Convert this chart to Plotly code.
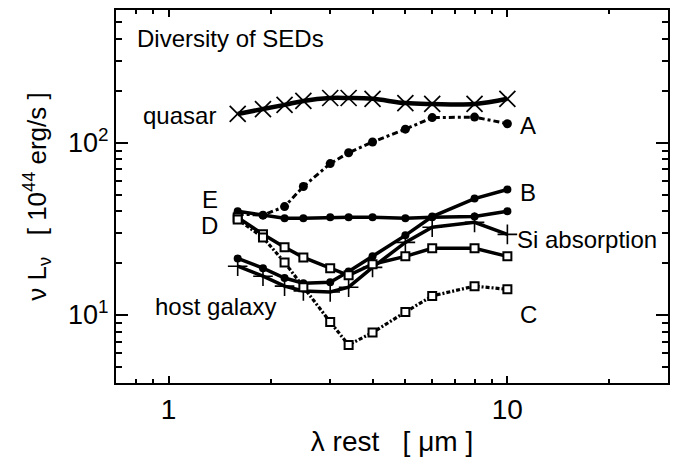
import plotly.graph_objects as go

# ---- data ----
wavelength = [1.6, 1.9, 2.2, 2.5, 3.0, 3.4, 4.0, 5.0, 6.0, 8.0, 10.0]
quasar = [147, 157, 166, 175, 182, 182, 180, 170, 168, 168, 180]
sed_A = [38.5, 38, 42.6, 55.7, 75.7, 87.5, 101, 120, 140, 141, 129]
sed_B = [21.3, 18.7, 16.4, 15.3, 15.5, 17.9, 21.9, 29.0, 37.3, 47.4, 53.5]
sed_C = [35.9, 28.2, 20.2, 14.5, 9.1, 6.7, 7.9, 10.4, 12.9, 14.7, 14.1]
sed_D = [36.8, 29.4, 24.7, 21.6, 18.7, 17.0, 19.7, 21.9, 24.4, 24.4, 21.9]
sed_E = [40, 38, 36.5, 36.5, 37, 37, 37, 36.5, 37, 37.3, 40]
host = [19.2, 16.8, 14.7, 13.8, 13.6, 14.5, 18.9, 26.4, 32.3, 34.5, 29.4]

x_major = [1, 10]
x_major_text = ["1", "10"]
x_minor = [0.8, 0.9, 2, 3, 4, 5, 6, 7, 8, 9, 20, 30]
y_major = [10, 100]
y_major_text = ["10<sup>1</sup>", "10<sup>2</sup>"]
y_minor = [5, 6, 7, 8, 9, 20, 30, 40, 50, 60, 70, 80, 90, 200, 300, 400, 500]

FONT = "Liberation Sans, Arial, sans-serif"
K = "black"

fig = go.Figure()

fig.add_trace(go.Scatter(x=wavelength, y=quasar, mode="lines+markers",
                         line=dict(color=K, width=4.5, shape="spline"),
                         marker=dict(symbol="x-thin-open", size=16, color=K, line=dict(color=K, width=1.7))))
fig.add_trace(go.Scatter(x=wavelength, y=sed_A, mode="lines+markers",
                         line=dict(color=K, width=3, dash="6px,3px,3px,3px"),
                         marker=dict(symbol="circle", size=9, color=K)))
fig.add_trace(go.Scatter(x=wavelength, y=sed_E, mode="lines+markers",
                         line=dict(color=K, width=3.5),
                         marker=dict(symbol="circle", size=8, color=K)))
fig.add_trace(go.Scatter(x=wavelength, y=sed_B, mode="lines+markers",
                         line=dict(color=K, width=3.5),
                         marker=dict(symbol="circle", size=8, color=K)))
fig.add_trace(go.Scatter(x=wavelength, y=host, mode="lines+markers",
                         line=dict(color=K, width=3.5),
                         marker=dict(symbol="cross-thin-open", size=14, color=K, line=dict(color=K, width=1.6))))
fig.add_trace(go.Scatter(x=wavelength, y=sed_D, mode="lines+markers",
                         line=dict(color=K, width=3.5),
                         marker=dict(symbol="square", size=8, color="white", line=dict(color=K, width=2))))
fig.add_trace(go.Scatter(x=wavelength, y=sed_C, mode="lines+markers",
                         line=dict(color=K, width=3.2, dash="4px,2px,2px,2px"),
                         marker=dict(symbol="square", size=8, color="white", line=dict(color=K, width=2))))

def ann(text, x, y, xanchor="left"):
    fig.add_annotation(text=text, x=x, y=y, xref="paper", yref="paper",
                       xanchor=xanchor, yanchor="middle", showarrow=False,
                       font=dict(family=FONT, size=24, color=K))

# plot area: x 116..670, y 10..383
def px(xp):
    return (xp - 116) / 554.0
def py(yp):
    return 1 - (yp - 10) / 373.0

ann("Diversity of SEDs", px(135), py(38))
ann("quasar", px(218), py(116), "right")
ann("A", px(519), py(125))
ann("B", px(519), py(192))
ann("C", px(519), py(314))
ann("Si absorption", px(516), py(239))
ann("E", px(220), py(199), "right")
ann("D", px(220), py(225), "right")
ann("host galaxy", px(153), py(306))

axis_common = dict(showline=True, linecolor=K, linewidth=2, mirror="allticks",
                   ticks="inside", tickcolor=K, tickwidth=1.5, showgrid=False, zeroline=False)

fig.update_xaxes(type="log", range=[-0.155, 1.474], tickmode="array",
                 tickvals=x_major, ticktext=x_major_text, ticklen=7,
                 tickfont=dict(family=FONT, size=28, color=K),
                 minor=dict(tickmode="array", tickvals=x_minor, ticks="inside", ticklen=4,
                            tickcolor=K, tickwidth=1.5, showgrid=False),
                 title=dict(text="λ rest  &nbsp;[ μm ]", font=dict(family=FONT, size=28, color=K), standoff=8),
                 **axis_common)
fig.update_yaxes(type="log", range=[0.605, 2.771], tickmode="array",
                 tickvals=y_major, ticktext=y_major_text, ticklen=12,
                 tickfont=dict(family=FONT, size=27, color=K),
                 minor=dict(tickmode="array", tickvals=y_minor, ticks="inside", ticklen=6,
                            tickcolor=K, tickwidth=1.5, showgrid=False),
                 title=dict(text="ν L<sub>ν</sub> &nbsp;&nbsp;[ 10<sup>44</sup> erg/s ]",
                            font=dict(family=FONT, size=26, color=K), standoff=14),
                 **axis_common)

fig.update_layout(width=673, height=463, margin=dict(l=116, r=3, t=10, b=80),
                  plot_bgcolor="white", paper_bgcolor="white", showlegend=False)

fig.write_html("out.html")
